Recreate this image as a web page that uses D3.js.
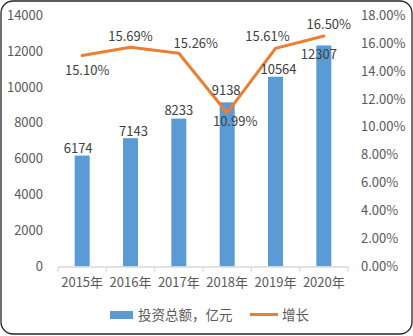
<!DOCTYPE html>
<html><head><meta charset="utf-8">
<script src="https://cdn.jsdelivr.net/npm/d3@7"></script>
<style>body{margin:0;background:#fff} svg{display:block}</style>
</head><body><svg id="c" width="413" height="336"></svg>
<script>
const years = ["2015年","2016年","2017年","2018年","2019年","2020年"];
const investment = [6174,7143,8233,9138,10564,12307];
const growth = [15.10,15.69,15.26,10.99,15.61,16.50];
const leftTicks = [0,2000,4000,6000,8000,10000,12000,14000];
const rightTicks = [0,2,4,6,8,10,12,14,16,18];
const seriesNames = ["投资总额，亿元","增长"];

// label placement tweaks (styling only)
const growthLabelOffset = [[5,15],[0,-11],[17,-10],[8,9],[-8,-12],[5,-12]];
const barLabelOffset = [[-4,0],[3,1],[0,-1],[-1,-4.5],[3,0],[-5,17]];

(function(){
const font = "'Noto Sans CJK SC', 'Noto Sans', sans-serif";
const svg = d3.select("#c");
svg.append("rect").attr("x",1).attr("y",1).attr("width",411).attr("height",333)
  .attr("rx",12).attr("ry",12).attr("fill","#fff").attr("stroke","#262626").attr("stroke-width",1.3);

const pl = 58, pr = 348, pt = 15, pb = 266.5;
const xCat = d3.scaleBand().domain(years).range([pl,pr]).padding(0);
const x = d3.scaleBand().domain(years).range([pl,pr]).paddingInner(0.69).paddingOuter(0.345);
const y = d3.scaleLinear().domain([0,14000]).range([pb,pt]);
const y2 = d3.scaleLinear().domain([0,18]).range([pb,pt]);

// bars
svg.append("g").selectAll("rect").data(investment).join("rect")
  .attr("x",(d,i)=>x(years[i])).attr("width",x.bandwidth())
  .attr("y",d=>y(d)).attr("height",d=>pb-y(d)).attr("fill","#5B9BD5");

// x axis
const ax = svg.append("g").attr("transform",`translate(0,${pb})`)
  .call(d3.axisBottom(xCat).tickSize(0).tickPadding(11).tickSizeOuter(0));
ax.select(".domain").attr("stroke","#D9D9D9").attr("stroke-width",1.3);
ax.selectAll("text").attr("font-family",font).attr("font-size","13px").attr("fill","#595959");
const bounds = years.map(d=>xCat(d)).concat([pr]);
ax.selectAll("line.b").data(bounds).join("line").attr("class","b")
  .attr("x1",d=>d).attr("x2",d=>d).attr("y1",0).attr("y2",5)
  .attr("stroke","#D9D9D9").attr("stroke-width",1.3);

// left axis
const ly = svg.append("g").attr("transform",`translate(${pl},0)`)
  .call(d3.axisLeft(y).tickValues(leftTicks).tickSize(0).tickPadding(15).tickFormat(d3.format("d")));
ly.select(".domain").remove();
ly.selectAll("text").attr("font-family",font).attr("font-size","13px").attr("fill","#595959");

// right axis
const ry = svg.append("g").attr("transform",`translate(${pr},0)`)
  .call(d3.axisRight(y2).tickValues(rightTicks).tickSize(0).tickPadding(13).tickFormat(d=>d3.format(".2f")(d)+"%"));
ry.select(".domain").remove();
ry.selectAll("text").attr("font-family",font).attr("font-size","13px").attr("fill","#595959");

// line
const cx = i => x(years[i]) + x.bandwidth()/2;
const line = d3.line().x((d,i)=>cx(i)).y(d=>y2(d));
svg.append("path").datum(growth).attr("d",line).attr("fill","none")
  .attr("stroke","#ED7D31").attr("stroke-width",3).attr("stroke-linejoin","round").attr("stroke-linecap","round");

// bar labels
svg.append("g").selectAll("text").data(investment).join("text")
  .attr("x",(d,i)=>cx(i)+barLabelOffset[i][0]).attr("y",(d,i)=>y(d)-3+barLabelOffset[i][1])
  .attr("text-anchor","middle").attr("font-family",font).attr("font-size","13px").attr("fill","#404040")
  .text(d=>d);

// growth labels
svg.append("g").selectAll("text").data(growth).join("text")
  .attr("x",(d,i)=>cx(i)+growthLabelOffset[i][0]).attr("y",(d,i)=>y2(d)+growthLabelOffset[i][1])
  .attr("dy","0.35em").attr("text-anchor","middle").attr("font-family",font).attr("font-size","13px").attr("fill","#404040")
  .text(d=>d3.format(".2f")(d)+"%");

// legend
const lg = svg.append("g");
lg.append("rect").attr("x",110).attr("y",311).attr("width",23).attr("height",8).attr("fill","#5B9BD5");
lg.append("text").attr("x",138).attr("y",315).attr("dy","0.35em").attr("font-family",font).attr("font-size","13.5px").attr("fill","#595959").text(seriesNames[0]);
lg.append("line").attr("x1",250).attr("x2",278).attr("y1",314.5).attr("y2",314.5).attr("stroke","#ED7D31").attr("stroke-width",3);
lg.append("text").attr("x",282).attr("y",315).attr("dy","0.35em").attr("font-family",font).attr("font-size","13.5px").attr("fill","#595959").text(seriesNames[1]);
})();
</script></body></html>
